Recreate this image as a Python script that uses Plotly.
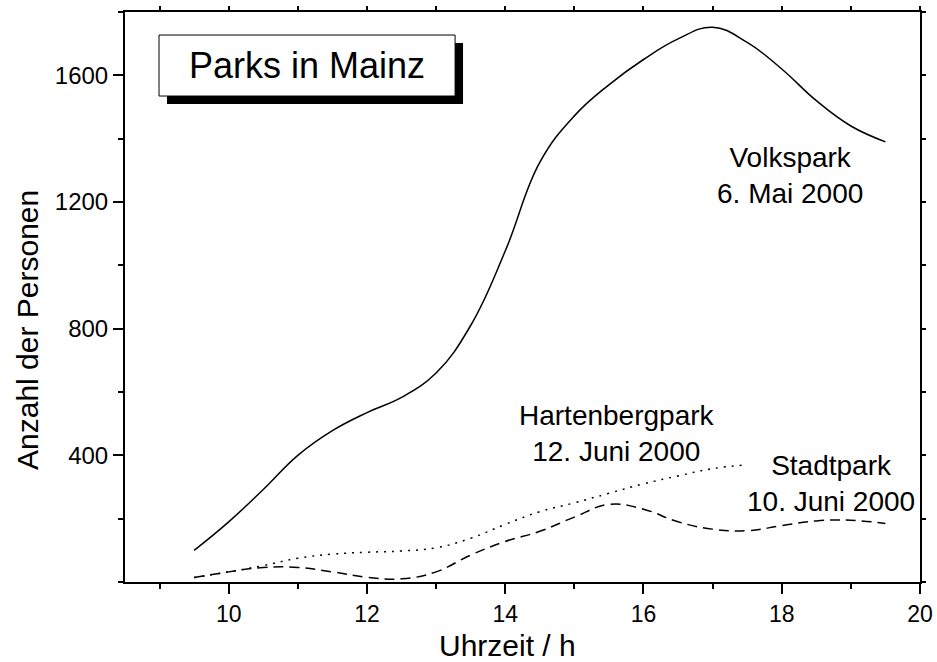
import plotly.graph_objects as go

# Uhrzeit (h) und Besucherzahlen je Park
volkspark_t = [9.5, 10, 10.5, 11, 11.5, 12, 12.5, 13, 13.5, 14, 14.5, 15, 15.5,
               16, 16.5, 17, 17.5, 18, 18.5, 19, 19.5]
volkspark_n = [100, 190, 292, 400, 478, 535, 583, 660, 810, 1045, 1325, 1472, 1570,
               1650, 1715, 1752, 1704, 1620, 1520, 1440, 1390]

hartenberg_t = [9.5, 10, 10.5, 11, 11.5, 12, 12.5, 13, 13.5, 14, 14.5, 15, 15.5,
                16, 16.5, 17, 17.5]
hartenberg_n = [14, 32, 52, 75, 88, 94, 98, 108, 138, 182, 222, 250, 280,
                310, 335, 358, 370]

stadtpark_t = [9.5, 10, 10.5, 11, 11.5, 12, 12.5, 13, 13.5, 14, 14.5, 15, 15.5,
               16, 16.5, 17, 17.5, 18, 18.5, 19, 19.5]
stadtpark_n = [14, 32, 46, 46, 32, 15, 10, 32, 85, 128, 160, 205, 245,
               230, 190, 167, 162, 178, 193, 195, 185]

x_ticks = [10, 12, 14, 16, 18, 20]
y_ticks = [400, 800, 1200, 1600]

FONT = "Liberation Sans, Arial, sans-serif"

fig = go.Figure()

fig.add_trace(go.Scatter(x=volkspark_t, y=volkspark_n, mode="lines",
                         line=dict(color="black", width=1.5, shape="spline", smoothing=1.2),
                         name="Volkspark"))
fig.add_trace(go.Scatter(x=hartenberg_t, y=hartenberg_n, mode="lines",
                         line=dict(color="black", width=1.5, shape="spline", smoothing=1.2,
                                   dash="2px,6px"),
                         name="Hartenbergpark"))
fig.add_trace(go.Scatter(x=stadtpark_t, y=stadtpark_n, mode="lines",
                         line=dict(color="black", width=1.5, shape="spline", smoothing=1.2,
                                   dash="10px,6px"),
                         name="Stadtpark"))
# empty trace so the top/right frame axes are rendered
fig.add_trace(go.Scatter(x=[], y=[], xaxis="x2", yaxis="y2", showlegend=False,
                         hoverinfo="skip"))

axis_common = dict(showgrid=False, zeroline=False, showline=True, linecolor="black",
                   linewidth=2, ticks="outside", tickcolor="black", tickwidth=2,
                   automargin=False)

fig.update_layout(
    width=937, height=662,
    margin=dict(l=125, r=17, t=12, b=80),
    paper_bgcolor="white", plot_bgcolor="white",
    showlegend=False,
    font=dict(family=FONT, color="black"),
    xaxis=dict(range=[8.5, 20], tickvals=x_ticks, ticklen=10,
               tickfont=dict(size=23, family=FONT),
               minor=dict(dtick=1, tick0=9, ticklen=5, tickwidth=2,
                          tickcolor="black", ticks="outside"),
               **axis_common),
    yaxis=dict(range=[0, 1800], tickvals=y_ticks, ticklen=10,
               tickfont=dict(size=24, family=FONT),
               minor=dict(dtick=200, tick0=0, ticklen=5, tickwidth=2,
                          tickcolor="black", ticks="outside"),
               **axis_common),
    xaxis2=dict(range=[8.5, 20], overlaying="x", side="top", anchor="y",
                tick0=9, dtick=1, ticklen=4, showticklabels=False, **axis_common),
    yaxis2=dict(range=[0, 1800], overlaying="y", side="right", anchor="x",
                tick0=0, dtick=200, ticklen=4, showticklabels=False, **axis_common),
)

# Titelkasten mit Schatten
fig.add_shape(type="rect", xref="paper", yref="paper",
              x0=0.0528, x1=0.4252, y0=0.8386, y1=0.9456,
              fillcolor="black", line=dict(width=0))
fig.add_shape(type="rect", xref="paper", yref="paper",
              x0=0.0428, x1=0.4152, y0=0.8526, y1=0.9596,
              fillcolor="white", line=dict(color="black", width=1))
fig.add_annotation(text="Parks in Mainz", xref="paper", yref="paper",
                   x=(0.0428 + 0.4152) / 2, y=(0.8526 + 0.9596) / 2,
                   showarrow=False, font=dict(size=36, family=FONT),
                   xanchor="center", yanchor="middle")

# Beschriftung der Kurven
labels = [
    ("Volkspark<br>6. Mai 2000", 18.12, 1283),
    ("Hartenbergpark<br>12. Juni 2000", 15.62, 470),
    ("Stadtpark<br>10. Juni 2000", 18.71, 312),
]
for text, lx, ly in labels:
    fig.add_annotation(text=text, x=lx, y=ly, showarrow=False,
                       font=dict(size=28, family=FONT), align="center",
                       xanchor="center", yanchor="middle")

# Achsentitel
fig.add_annotation(text="Uhrzeit / h", xref="paper", yref="paper",
                   x=(507 - 125) / 795, y=-(662 - 582) / 570, showarrow=False,
                   font=dict(size=30, family=FONT), xanchor="center", yanchor="bottom",
                   yshift=-2)
fig.add_annotation(text="Anzahl der Personen", xref="paper", yref="paper",
                   x=(27 - 125) / 795, y=(582 - 330) / 570, showarrow=False, textangle=-90,
                   font=dict(size=30, family=FONT), xanchor="center", yanchor="middle")

fig.write_html("out.html")
